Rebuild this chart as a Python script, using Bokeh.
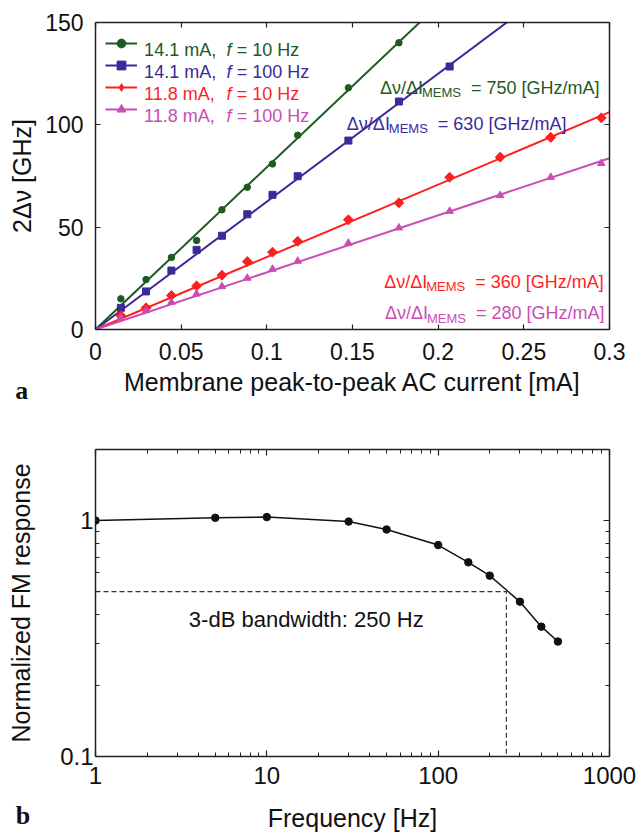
import numpy as np
from bokeh.plotting import figure
from bokeh.models import Range1d, LinearAxis, LogAxis, FixedTicker, Label, Legend, LegendItem
from bokeh.layouts import column
from bokeh.embed import file_html
from bokeh.resources import INLINE

FONT = "Liberation Sans"

# ---------------- panel a data ----------------
current_mA = [0.0148, 0.0295, 0.0443, 0.0590, 0.0738, 0.0886, 0.1033,
              0.1180, 0.1476, 0.1771, 0.2067, 0.2362, 0.2657, 0.2952]
shift_14_10 = [15.0, 24.4, 35.2, 43.5, 58.5, 69.5, 80.9, 94.9, 118.1, 140.1]
shift_14_100 = [10.6, 18.6, 28.8, 38.9, 45.8, 56.3, 65.8, 74.9, 92.3, 111.4, 128.5]
shift_118_10 = [6.8, 10.6, 16.6, 21.3, 26.5, 33.2, 37.8, 43.1, 53.6, 61.9,
                74.4, 84.2, 93.9, 103.4]
shift_118_100 = [5.7, 9.3, 13.3, 17.4, 21.0, 25.1, 29.5, 33.4, 42.2, 49.7,
                 57.8, 65.5, 74.4, 81.2]
fit_slope = [793, 625, 354, 279]
series_current = ["14.1 mA,", "14.1 mA,", "11.8 mA,", "11.8 mA,"]
series_freq = ["= 10 Hz", "= 100 Hz", "= 10 Hz", "= 100 Hz"]
tuning_rate = ["750", "630", "360", "280"]
a_xticks = [0, 0.05, 0.1, 0.15, 0.2, 0.25, 0.3]
a_xlabels = ["0", "0.05", "0.1", "0.15", "0.2", "0.25", "0.3"]
a_yticks = [0, 50, 100, 150]
a_ylabels = ["0", "50", "100", "150"]

# ---------------- panel b data ----------------
freq_Hz = [1, 5, 10, 30, 50, 100, 150, 200, 300, 400, 500]
fm_response = [1.0, 1.027, 1.034, 0.99, 0.916, 0.787, 0.665, 0.584, 0.453, 0.355, 0.307]
bandwidth_Hz = 250
half_level = 0.5
b_xticks = [1, 10, 100, 1000]
b_xlabels = ["1", "10", "100", "1000"]
b_yticks = [0.1, 1]
b_ylabels = ["0.1", "1"]

# ---------------- styles / layout ----------------
colors = ["#1e5a22", "#3b2a99", "#ff1f1f", "#c94db3"]
markers = ["circle", "square", "square", "triangle"]
legend_markers = ["circle", "square", "diamond", "triangle"]
msizes = [6.5, 7, 7, 7.5]
mangles = [0, 0, np.pi / 4, 0]
AXC = "#222222"

# page geometry of the two frames (pixels); the page is drawn from (0, 0)
TL, TR, TT, TB = 95, 613, 22, 329
BL, BR, BT, BB = 93, 609, 449, 757
W = 644
H1 = 420
H2 = 414
XA = (0, 0.3)
YA = (0, 150)
XB = (1, 1000)
YB = (0.1, 2)


def ax_(px):
    return XA[0] + (px - TL) / (TR - TL) * (XA[1] - XA[0])


def ay_(py):
    return YA[0] + (TB - py) / (TB - TT) * (YA[1] - YA[0])


def bx_(px):
    return 10 ** (np.log10(XB[0]) + (px - BL) / (BR - BL) * np.log10(XB[1] / XB[0]))


def by_(py):
    return 10 ** (np.log10(YB[0]) + (BB - py) / (BB - BT) * np.log10(YB[1] / YB[0]))


def style_axis(ax, tick_in, minor_in=0, fs="23px"):
    ax.axis_line_color = AXC
    ax.axis_line_width = 1.5
    ax.major_tick_line_color = AXC
    ax.minor_tick_line_color = AXC
    ax.major_tick_line_width = 1.2
    ax.minor_tick_line_width = 1.0
    ax.major_tick_in = tick_in
    ax.major_tick_out = 0
    ax.minor_tick_in = minor_in
    ax.minor_tick_out = 0
    ax.major_label_text_font = FONT
    ax.major_label_text_font_size = fs
    ax.major_label_text_color = "#111111"
    ax.axis_label_text_font = FONT
    ax.axis_label_text_font_size = "25px"
    ax.axis_label_text_font_style = "normal"
    ax.axis_label_text_color = "#111111"


def blank_labels(ax):
    ax.major_label_text_font_size = "0px"
    ax.major_label_standoff = 0
    ax.major_label_text_color = None
    ax.axis_label = None


# ================= panel a =================
p1 = figure(width=W, height=H1, x_range=Range1d(*XA), y_range=Range1d(*YA),
            output_backend="svg", toolbar_location=None, title=None,
            min_border_left=TL, min_border_right=W - TR,
            min_border_top=TT, min_border_bottom=H1 - TB)
p1.xgrid.visible = False
p1.ygrid.visible = False
p1.outline_line_color = None
p1.background_fill_color = "white"
p1.border_fill_color = "white"

series = [shift_14_10, shift_14_100, shift_118_10, shift_118_100]
items = []
xfit = np.array(XA, dtype=float)
for i, ys in enumerate(series):
    xs = current_mA[:len(ys)]
    ln = p1.line(xfit, fit_slope[i] * xfit, line_color=colors[i], line_width=2)
    sc = p1.scatter(xs, ys, marker=markers[i], size=msizes[i], angle=mangles[i],
                    fill_color=colors[i], line_color=colors[i])
    if legend_markers[i] != markers[i]:
        # zero-size twin of the series: invisible in the plot, used for the legend symbol
        sc = p1.scatter(xs, ys, marker=legend_markers[i], size=0,
                        fill_color=colors[i], line_color=None)
    items.append(LegendItem(label=" ", renderers=[ln, sc]))

legend = Legend(items=items, location="top_left", margin=10, padding=0, spacing=0,
                glyph_height=22, glyph_width=32, label_height=22, label_width=0,
                label_standoff=0, border_line_color=None, background_fill_alpha=0,
                label_text_font_size="10px")
p1.add_layout(legend)

# legend texts (coloured, italic f)
for i in range(4):
    base = TT + 10 + 11 + 22 * i + 6.5
    common = dict(x=ax_(144), y=ay_(base), text_baseline="alphabetic",
                  text_font=FONT, text_font_size="18px", text_color=colors[i])
    p1.add_layout(Label(text=series_current[i], x_offset=0, **common))
    p1.add_layout(Label(text="f", x_offset=82.5, text_font_style="italic", **common))
    p1.add_layout(Label(text=series_freq[i], x_offset=92.7, **common))

# slope annotations
ann_anchor = [(381.7, 87.3), (348.3, 123.3), (386.0, 281.0), (386.7, 312.7)]
for i in range(4):
    px, py = ann_anchor[i]
    common = dict(x=ax_(px), y=ay_(py), text_baseline="alphabetic",
                  text_font=FONT, text_color=colors[i])
    p1.add_layout(Label(text="Δν/ΔI", text_font_size="18px", **common))
    p1.add_layout(Label(text="MEMS", text_font_size="13px", x_offset=42, y_offset=-5, **common))
    p1.add_layout(Label(text="= " + tuning_rate[i] + " [GHz/mA]", text_font_size="18px",
                        x_offset=91, **common))

xa = p1.xaxis[0]
xa.ticker = FixedTicker(ticks=a_xticks)
xa.major_label_overrides = {t: l for t, l in zip(a_xticks, a_xlabels)}
xa.axis_label = "Membrane peak-to-peak AC current [mA]"
style_axis(xa, 5)
xa.major_label_standoff = 13
xa.axis_label_standoff = 5

ya = p1.yaxis[0]
ya.ticker = FixedTicker(ticks=a_yticks)
ya.major_label_overrides = {t: l for t, l in zip(a_yticks, a_ylabels)}
ya.axis_label = "2Δν [GHz]"
style_axis(ya, 5)
ya.major_label_standoff = 12
ya.axis_label_standoff = 6

ta = LinearAxis(ticker=FixedTicker(ticks=a_xticks))
style_axis(ta, 5)
blank_labels(ta)
p1.add_layout(ta, "above")
ra = LinearAxis(ticker=FixedTicker(ticks=a_yticks))
style_axis(ra, 5)
blank_labels(ra)
p1.add_layout(ra, "right")

# panel letter lives in a side panel so that it is not clipped to the frame
p1.add_layout(Label(text="a", x=ax_(14), y=ay_(390), text_baseline="alphabetic",
                    text_font="Liberation Serif", text_font_style="bold",
                    text_font_size="26px", text_color="#111111"), "right")

# ================= panel b =================
P2TOP = H1
p2 = figure(width=W, height=H2, x_axis_type="log", y_axis_type="log",
            x_range=Range1d(*XB), y_range=Range1d(*YB),
            output_backend="svg", toolbar_location=None, title=None,
            min_border_left=BL, min_border_right=W - BR,
            min_border_top=BT - P2TOP, min_border_bottom=P2TOP + H2 - BB)
p2.xgrid.visible = False
p2.ygrid.visible = False
p2.outline_line_color = None
p2.background_fill_color = "white"
p2.border_fill_color = "white"

p2.line([XB[0], bandwidth_Hz, bandwidth_Hz], [half_level, half_level, YB[0]],
        line_color="#333333", line_width=1.2, line_dash="5 3")
p2.line(freq_Hz, fm_response, line_color="#111111", line_width=1.5)
p2.scatter(freq_Hz, fm_response, marker="circle", size=7.5,
           fill_color="#111111", line_color="#111111")

p2.add_layout(Label(text="3-dB bandwidth: %d Hz" % bandwidth_Hz, x=bx_(186.7), y=by_(620),
                    text_baseline="alphabetic", text_font=FONT, text_font_size="22px",
                    text_color="#111111"))

x_minor = [m * d for d in b_xticks[:-1] for m in range(2, 10)]
y_minor = [round(m * d, 3) for d in b_yticks for m in range(2, 10)]

xb = p2.xaxis[0]
xb.ticker = FixedTicker(ticks=b_xticks, minor_ticks=x_minor)
xb.major_label_overrides = {t: l for t, l in zip(b_xticks, b_xlabels)}
xb.axis_label = "Frequency [Hz]"
style_axis(xb, 6, 4, fs="24px")
xb.major_label_standoff = 10
xb.axis_label_standoff = 17

yb = p2.yaxis[0]
yb.ticker = FixedTicker(ticks=b_yticks, minor_ticks=y_minor)
yb.major_label_overrides = {t: l for t, l in zip(b_yticks, b_ylabels)}
yb.axis_label = "Normalized FM response"
style_axis(yb, 6, 4, fs="24px")
yb.major_label_standoff = 2
yb.axis_label_standoff = 22

tb = LogAxis(ticker=FixedTicker(ticks=b_xticks, minor_ticks=x_minor))
style_axis(tb, 6, 4)
blank_labels(tb)
p2.add_layout(tb, "above")
rb = LogAxis(ticker=FixedTicker(ticks=b_yticks, minor_ticks=y_minor))
style_axis(rb, 6, 4)
blank_labels(rb)
p2.add_layout(rb, "right")

p2.add_layout(Label(text="b", x=bx_(13), y=by_(816), text_baseline="alphabetic",
                    text_font="Liberation Serif", text_font_style="bold",
                    text_font_size="26px", text_color="#111111"), "right")

layout = column(p1, p2)
open("out.html", "w").write(file_html(layout, INLINE))
